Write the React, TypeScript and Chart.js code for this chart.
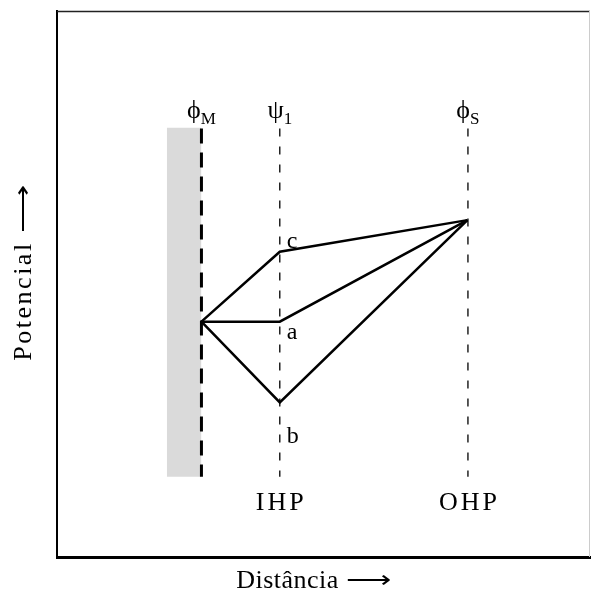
import React, { useEffect, useRef } from 'react';
import { Chart, registerables } from 'chart.js';

Chart.register(...registerables);

const FONT = "'Liberation Serif', 'Times New Roman', serif";

// Axis titles
const xTitle = 'Distância';
const yTitle = 'Potencial';
const ARROW = '⟶';

// Plane positions (distance axis, 0..100)
const planeNames = ['ϕ', 'ψ', 'ϕ'];
const planeSubs = ['M', '1', 'S'];
const planeX = [27.1, 41.8, 77.1];
const planeLabelY = 80.4;

// Metal band
const bandX = [20.6, 27.1];
const bandTop = 78.6;
const bandBottom = 14.7;

// Dashed plane lines extent
const dashTop = 78.5;
const dashBottom = 14.7;

// Layer names under the dashed lines
const layerNames = ['IHP', 'OHP'];
const layerX = [41.8, 77.1];
const layerLabelY = 8.6;

// Potential profiles: metal surface, IHP, OHP
const profileX = [27.1, 41.8, 77.0];
const profileC = [43.1, 55.9, 61.7];
const profileA = [43.1, 43.1, 61.7];
const profileB = [43.1, 28.3, 61.7];
const profileNames = ['c', 'a', 'b'];
const profileLabelX = [43.1, 43.1, 43.1];
const profileLabelY = [56.6, 39.9, 20.9];

const toPts = (xs: number[], ys: number[]) => xs.map((x, i) => ({ x, y: ys[i] }));

// draws "text ⟶" starting at 0 along current x direction, centred on 0
function drawTitle(ctx: CanvasRenderingContext2D, text: string, spacing: number, arrowLen: number, gap: number) {
  ctx.font = `26px ${FONT}`;
  (ctx as any).letterSpacing = `${spacing}px`;
  const tw = ctx.measureText(text).width;
  (ctx as any).letterSpacing = '0px';
  const aw = ctx.measureText(ARROW).width;
  const total = tw + gap + arrowLen;
  const x0 = -total / 2;
  ctx.textAlign = 'left';
  ctx.textBaseline = 'alphabetic';
  (ctx as any).letterSpacing = `${spacing}px`;
  ctx.fillText(text, x0, 0);
  (ctx as any).letterSpacing = '0px';
  ctx.save();
  ctx.translate(x0 + tw + gap, 0);
  ctx.scale(arrowLen / aw, 1);
  ctx.fillText(ARROW, 0, 0);
  ctx.restore();
}

const labelsPlugin = {
  id: 'labelsPlugin',
  afterDatasetsDraw(chart: any) {
    const { ctx, chartArea, scales } = chart;
    const xs = scales.x;
    const ys = scales.y;
    ctx.save();
    // top and right frame
    ctx.strokeStyle = '#222';
    ctx.lineWidth = 1.5;
    ctx.beginPath();
    ctx.moveTo(chartArea.left, chartArea.top + 0.5);
    ctx.lineTo(chartArea.right, chartArea.top + 0.5);
    ctx.stroke();
    ctx.strokeStyle = '#cccccc';
    ctx.lineWidth = 1;
    ctx.beginPath();
    ctx.moveTo(chartArea.right - 0.5, chartArea.top);
    ctx.lineTo(chartArea.right - 0.5, chartArea.bottom);
    ctx.stroke();

    ctx.fillStyle = '#000';
    ctx.textBaseline = 'alphabetic';
    // plane symbols with subscripts
    for (let i = 0; i < planeNames.length; i++) {
      ctx.font = `26px ${FONT}`;
      const w1 = ctx.measureText(planeNames[i]).width;
      ctx.font = `17px ${FONT}`;
      const w2 = ctx.measureText(planeSubs[i]).width;
      const cx = xs.getPixelForValue(planeX[i]);
      const by = ys.getPixelForValue(planeLabelY);
      const x0 = cx - (w1 + w2) / 2;
      ctx.textAlign = 'left';
      ctx.font = `26px ${FONT}`;
      ctx.fillText(planeNames[i], x0, by);
      ctx.font = `17px ${FONT}`;
      ctx.fillText(planeSubs[i], x0 + w1, by + 6);
    }
    // IHP / OHP
    ctx.font = `26px ${FONT}`;
    ctx.textAlign = 'center';
    (ctx as any).letterSpacing = '3px';
    for (let i = 0; i < layerNames.length; i++) {
      ctx.fillText(layerNames[i], xs.getPixelForValue(layerX[i]) + 1.5, ys.getPixelForValue(layerLabelY));
    }
    (ctx as any).letterSpacing = '0px';
    // a, b, c
    ctx.textAlign = 'left';
    ctx.font = `24px ${FONT}`;
    for (let i = 0; i < profileNames.length; i++) {
      ctx.fillText(profileNames[i], xs.getPixelForValue(profileLabelX[i]), ys.getPixelForValue(profileLabelY[i]));
    }

    // axis titles
    const cxMid = (chartArea.left + chartArea.right) / 2;
    ctx.save();
    ctx.translate(cxMid - 10, chart.height - 10);
    drawTitle(ctx, xTitle, 0.5, 45, 7);
    ctx.restore();

    const cyMid = (chartArea.top + chartArea.bottom) / 2;
    ctx.save();
    ctx.translate(31, cyMid - 11);
    ctx.rotate(-Math.PI / 2);
    drawTitle(ctx, yTitle, 2.5, 48, 8);
    ctx.restore();

    ctx.restore();
  },
};

export default function App() {
  const ref = useRef<HTMLCanvasElement | null>(null);

  useEffect(() => {
    document.body.style.margin = '0';
    const canvas = ref.current;
    if (!canvas) return;
    const solid = (data: any[]) => ({
      data,
      borderColor: '#000',
      borderWidth: 2.5,
      borderJoinStyle: 'miter' as const,
      pointRadius: 0,
      fill: false,
      tension: 0,
    });
    const chart = new Chart(canvas, {
      type: 'line',
      data: {
        datasets: [
          solid(toPts(profileX, profileC)),
          solid(toPts(profileX, profileA)),
          solid(toPts(profileX, profileB)),
          {
            data: [{ x: planeX[0], y: dashTop }, { x: planeX[0], y: dashBottom }],
            borderColor: '#000',
            borderWidth: 3,
            borderDash: [15, 9],
            pointRadius: 0,
            fill: false,
          },
          {
            data: [{ x: planeX[1], y: dashTop }, { x: planeX[1], y: dashBottom }],
            borderColor: '#000',
            borderWidth: 1.3,
            borderDash: [8, 10],
            pointRadius: 0,
            fill: false,
          },
          {
            data: [{ x: planeX[2], y: dashTop }, { x: planeX[2], y: dashBottom }],
            borderColor: '#000',
            borderWidth: 1.3,
            borderDash: [8, 10],
            pointRadius: 0,
            fill: false,
          },
          {
            data: [{ x: bandX[0], y: bandTop }, { x: bandX[1], y: bandTop }],
            borderWidth: 0,
            borderColor: 'rgba(0,0,0,0)',
            backgroundColor: '#dadada',
            pointRadius: 0,
            fill: { value: bandBottom },
          },
        ] as any,
      },
      options: {
        responsive: false,
        animation: false,
        layout: { padding: { top: 11, right: 1, left: 0, bottom: 0 } },
        plugins: {
          legend: { display: false },
          tooltip: { enabled: false },
        },
        scales: {
          x: {
            type: 'linear',
            min: 0,
            max: 100,
            grid: { display: false },
            ticks: { display: false },
            border: { display: true, color: '#000', width: 3 },
            afterFit: (s: any) => { s.height = 41; },
          },
          y: {
            type: 'linear',
            min: 0,
            max: 100,
            grid: { display: false },
            ticks: { display: false },
            border: { display: true, color: '#000', width: 2 },
            afterFit: (s: any) => { s.width = 57; },
          },
        },
      } as any,
      plugins: [labelsPlugin],
    });
    return () => chart.destroy();
  }, []);

  return (
    <div style={{ width: 591, height: 598 }}>
      <canvas ref={ref} width={591} height={598} />
    </div>
  );
}
